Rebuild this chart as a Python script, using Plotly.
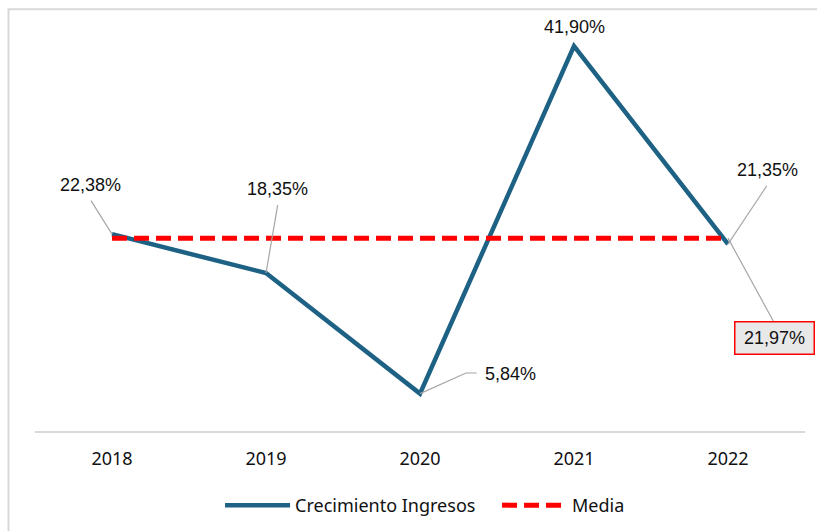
import plotly.graph_objects as go

# Revenue growth per year (%) and its average
years = ["2018", "2019", "2020", "2021", "2022"]
growth = [22.38, 18.35, 5.84, 41.90, 21.35]
mean_value = 21.97
mean_line = [mean_value] * len(years)

growth_labels = ["22,38%", "18,35%", "5,84%", "41,90%", "21,35%"]
mean_label = "21,97%"

BLUE = "#1D6184"
RED = "#FF0000"
GREY = "#A6A6A6"
FRAME = "#D9D9D9"
LABEL_FONT = dict(family="Liberation Sans, Arial, sans-serif", size=18, color="#111111")
UI_FONT = dict(family="Noto Sans, sans-serif", size=18, color="#111111")

idx = list(range(len(years)))

fig = go.Figure()
fig.add_trace(go.Scatter(
    x=idx, y=growth, mode="lines", name="Crecimiento Ingresos",
    line=dict(color=BLUE, width=4.5),
))
fig.add_trace(go.Scatter(
    x=idx, y=mean_line, mode="lines", name="Media",
    line=dict(color=RED, width=5, dash="15px,7px"),
))

# label placement: (text offset x, text offset y, leader path) in screen pixels
placements = [
    (-22, -49, [(-21, -33.5)]),
    (11, -84, [(11.7, -67.8)]),
    (90, -20, [(46, -20.6), (56.7, -20.6)]),
    (0, -19, None),
    (39, -74, [(38.7, -58.2)]),
]

annotations = []
shapes = []
for i, (v, txt, (dx, dy, leader)) in enumerate(zip(growth, growth_labels, placements)):
    annotations.append(dict(
        x=i, y=v, xref="x", yref="y", text=txt, showarrow=False,
        xshift=dx, yshift=-dy, font=LABEL_FONT,
    ))
    if leader:
        path = "M0,0" + "".join(f" L{px},{-py}" for px, py in leader)
        shapes.append(dict(
            type="path", xref="x", yref="y", xsizemode="pixel", ysizemode="pixel",
            xanchor=i, yanchor=v, path=path, line=dict(color=GREY, width=1.2),
        ))

# average label in a boxed callout beside the last point
last = len(years) - 1
annotations.append(dict(
    x=last, y=mean_value, xref="x", yref="y", text=mean_label, showarrow=False,
    xshift=46.5, yshift=-100, font=LABEL_FONT, bgcolor="#E8E8E8",
    bordercolor=RED, borderwidth=1.5, borderpad=1, width=76, height=29,
))
shapes.append(dict(
    type="path", xref="x", yref="y", xsizemode="pixel", ysizemode="pixel",
    xanchor=last, yanchor=mean_value, path="M0,0 L45.7,-83.7",
    line=dict(color=GREY, width=1.2),
))

# outer chart frame (left and top edges)
shapes.append(dict(
    type="path", xref="paper", yref="paper",
    path="M -0.0344,-0.4 L -0.0344,1.0137 L 1.1,1.0137",
    line=dict(color=FRAME, width=2), layer="below",
))

fig.update_layout(
    width=817, height=531,
    margin=dict(l=35, r=12, t=15, b=100, autoexpand=False),
    paper_bgcolor="white", plot_bgcolor="white",
    showlegend=True,
    legend=dict(
        orientation="h", x=0.2403, xanchor="left", y=-0.179, yanchor="middle",
        font=UI_FONT, itemwidth=65, entrywidth=197, traceorder="normal",
    ),
    annotations=annotations,
    shapes=shapes,
    hovermode=False,
)
fig.update_xaxes(
    range=[-0.5, 4.5], tickmode="array", tickvals=idx, ticktext=years,
    showgrid=False, zeroline=False, showline=True, linecolor=FRAME, linewidth=2,
    ticks="", tickfont=UI_FONT, ticklabelstandoff=10, automargin=False,
)
fig.update_yaxes(
    range=[1.96, 45.12], visible=False, showgrid=False, zeroline=False,
    automargin=False,
)

fig.write_html("out.html")
